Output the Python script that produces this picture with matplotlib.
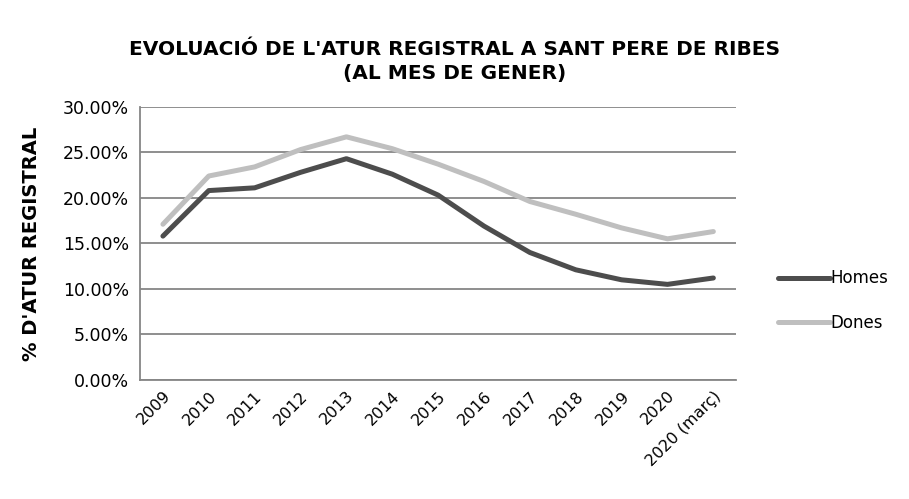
import matplotlib.pyplot as plt
from matplotlib.ticker import PercentFormatter

years = ["2009", "2010", "2011", "2012", "2013", "2014", "2015", "2016",
         "2017", "2018", "2019", "2020", "2020 (març)"]
homes = [15.8, 20.8, 21.1, 22.8, 24.3, 22.6, 20.3, 16.9, 14.0, 12.1, 11.0, 10.5, 11.2]
dones = [17.1, 22.4, 23.4, 25.3, 26.7, 25.4, 23.7, 21.8, 19.6, 18.2, 16.7, 15.5, 16.3]

fig = plt.figure(figsize=(9.09, 4.99), dpi=100)
ax = fig.add_axes([0.154, 0.2385, 0.656, 0.5475])

x = range(len(years))
ax.plot(x, homes, color="#4d4d4d", lw=3.6, solid_capstyle="round", label="Homes")
ax.plot(x, dones, color="#bfbfbf", lw=3.6, solid_capstyle="round", label="Dones")

ax.set_xlim(-0.5, len(years) - 0.5)
ax.set_ylim(0, 30)
ax.set_yticks(range(0, 31, 5))
ax.yaxis.set_major_formatter(PercentFormatter(decimals=2))
ax.set_xticks(list(x))
ax.set_xticklabels(years, rotation=45, ha="right", rotation_mode="anchor", fontsize=11.5)
ax.tick_params(axis="y", labelsize=12.5, length=0, pad=8)
ax.tick_params(axis="x", length=0, pad=6)
ax.grid(axis="y", color="#868686", lw=1.3)
ax.set_axisbelow(True)
for s in ["top", "right"]:
    ax.spines[s].set_visible(False)
for s in ["left", "bottom"]:
    ax.spines[s].set_color("#868686")
    ax.spines[s].set_linewidth(1.3)

ax.set_ylabel("% D'ATUR REGISTRAL", fontsize=14, fontweight="bold", labelpad=16)
fig.suptitle("EVOLUACIÓ DE L'ATUR REGISTRAL A SANT PERE DE RIBES\n(AL MES DE GENER)",
             fontsize=14.5, fontweight="bold", y=0.92, linespacing=1.35)

ax.legend(loc="center left", bbox_to_anchor=(1.045, 0.29), frameon=False,
          fontsize=12, handlelength=3.1, handletextpad=0.05, labelspacing=1.6)

fig.savefig("out.png", dpi=100)
